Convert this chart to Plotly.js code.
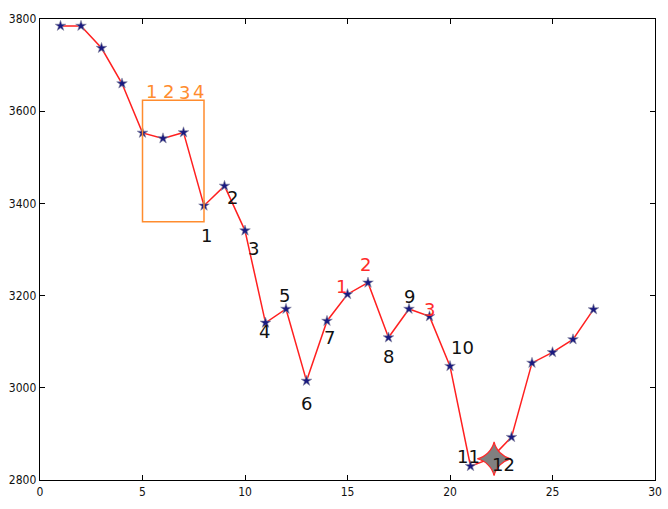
<!DOCTYPE html>
<html>
<head>
<meta charset="utf-8">
<script src="https://cdn.plot.ly/plotly-3.0.1.min.js"></script>
<style>html,body{margin:0;padding:0;background:#fff}#chart{width:668px;height:509px}</style>
</head>
<body>
<div id="chart"></div>
<script>
const xs = [1,2,3,4,5,6,7,8,9,10,11,12,13,14,15,16,17,18,19,20,21,22,23,24,25,26,27];
const ys = [3785,3785,3737,3660,3553,3541,3554,3395,3438,3341,3141,3171,3015,3145,3203,3228,3109,3171,3155,3047,2830,2847,2893,3054,3077,3105,3170];

// black wave labels: text, x, y
const blackText = ['1','2','3','4','5','6','7','8','9','10','11','12'];
const blackX = [8.1,9.4,10.4,10.95,11.95,13.0,14.1,17.0,18.0,20.6,20.9,22.6];
const blackY = [3330,3413,3302,3122,3200,2965,3110,3068,3198,3088,2850,2833];

// red labels
const redText = ['1','2','3'];
const redX = [14.7,15.9,19.0];
const redY = [3220,3267,3170];

// orange labels over box
const orangeText = ['1','2','3','4'];
const orangeX = [5.45,6.25,7.05,7.75];
const orangeY = [3643,3643,3640,3643];

// box extents
const boxX = [5,8];
const boxY = [3360,3624];

// highlight star
const starX = [22.15];
const starY = [2846];

const annotations = [];
function addText(arr, ax, ay, color) {
  arr.forEach((t, i) => annotations.push({
    x: ax[i], y: ay[i], text: t, showarrow: false,
    font: {family: 'DejaVu Sans, Verdana, sans-serif', size: 18, color: color},
    xanchor: 'center', yanchor: 'middle'
  }));
}
addText(blackText, blackX, blackY, '#111');
addText(redText, redX, redY, '#ff2a2a');
addText(orangeText, orangeX, orangeY, '#ff8c2e');

const data = [
  {x: xs, y: ys, type: 'scatter', mode: 'lines+markers',
   line: {color: '#ff2020', width: 1.5},
   marker: {symbol: 'star', size: 8, color: '#1a1a80', line: {color: '#8a8aa0', width: 0.6}},
   hoverinfo: 'none'},
  {x: starX, y: starY, type: 'scatter', mode: 'markers',
   marker: {symbol: 'star-diamond', size: 24, color: '#808080', line: {color: '#ff2a2a', width: 1.2}},
   hoverinfo: 'none'}
];

const axisCommon = {
  showgrid: false, zeroline: false, showline: true, mirror: 'ticks',
  linecolor: '#000', linewidth: 1.3, ticks: 'inside', ticklen: 5, tickcolor: '#000',
  tickfont: {family: 'Liberation Sans Narrow, DejaVu Sans Condensed, Arial Narrow, sans-serif', size: 12, color: '#111'}
};

const layout = {
  width: 668, height: 509,
  margin: {l: 40, r: 13, t: 19, b: 29},
  paper_bgcolor: '#fff', plot_bgcolor: '#fff',
  showlegend: false,
  xaxis: Object.assign({}, axisCommon, {range: [0, 30], tickvals: [0,5,10,15,20,25,30]}),
  yaxis: Object.assign({}, axisCommon, {range: [2800, 3800], tickvals: [2800,3000,3200,3400,3600,3800]}),
  shapes: [{type: 'rect', xref: 'x', yref: 'y', x0: boxX[0], x1: boxX[1], y0: boxY[0], y1: boxY[1],
            line: {color: '#ff8c2e', width: 1.5}, fillcolor: 'rgba(0,0,0,0)'}],
  annotations: annotations
};

Plotly.newPlot('chart', data, layout, {staticPlot: true});
</script>
</body>
</html>
